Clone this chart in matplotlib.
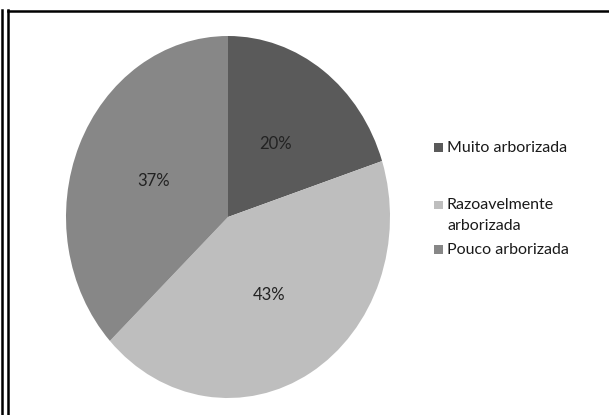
import matplotlib.pyplot as plt
from matplotlib.patches import Rectangle
from matplotlib.lines import Line2D

categorias = ['Muito arborizada', 'Razoavelmente\narborizada', 'Pouco arborizada']
valores = [20, 43, 37]
cores = ['#5a5a5a', '#bebebe', '#878787']
legenda_y = [148, 205, 250]  # centro (px, a partir do topo) da 1a linha de cada entrada

W, H = 609, 415
fig = plt.figure(figsize=(W / 100, H / 100), dpi=100)
fig.patch.set_facecolor('white')

# pie esticada numa elipse (como no Excel)
ax = fig.add_axes([66 / W, (H - 398) / H, 324 / W, 362 / H])
ax.pie(valores, colors=cores, startangle=90, counterclock=False,
       autopct='%.0f%%', pctdistance=0.5,
       textprops={'fontname': 'Lato', 'size': 12, 'color': '#222222'},
       wedgeprops={'linewidth': 0})
ax.set_aspect('auto')
ax.set_xlim(-1, 1)
ax.set_ylim(-1, 1)
ax.axis('off')

# legenda feita a mao (espacamento irregular)
for cat, cor, y in zip(categorias, cores, legenda_y):
    fig.patches.append(Rectangle((434 / W, (H - y - 4.5) / H), 9 / W, 9 / H,
                                 transform=fig.transFigure, facecolor=cor,
                                 edgecolor='none'))
    fig.text(447 / W, (H - y + 7) / H, cat, fontname='Lato', size=11.5,
             color='#1a1a1a', va='top', linespacing=1.6)

# bordas da moldura
for xs, ys in [([1.5, 1.5], [10, H]), ([7.5, 7.5], [10, H]), ([7.5, W], [11, 11])]:
    fig.lines.append(Line2D([x / W for x in xs], [(H - y) / H for y in ys],
                            transform=fig.transFigure, color='black', lw=1.8))

fig.savefig('out.png', dpi=100)
